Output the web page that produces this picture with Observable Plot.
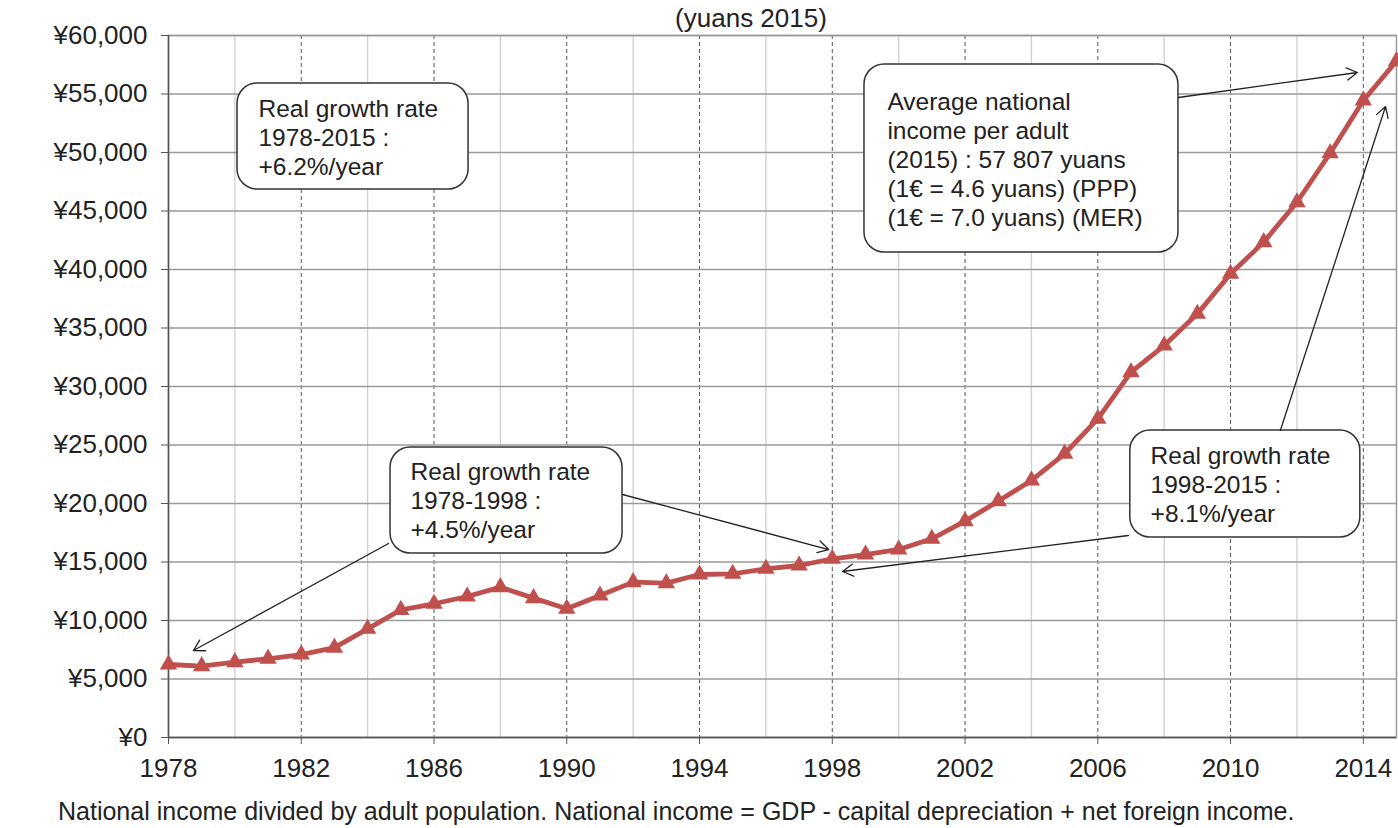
<!DOCTYPE html>
<html><head><meta charset="utf-8">
<script src="https://cdn.jsdelivr.net/npm/d3@7"></script>
<script src="https://cdn.jsdelivr.net/npm/@observablehq/plot@0.6"></script>
<style>
body{margin:0;background:#fff;font-family:"Liberation Sans",Arial,sans-serif;}
#wrap{position:relative;width:1398px;height:828px;overflow:hidden;background:#fff}
#chart{position:absolute;top:0;left:0}
#sub{position:absolute;top:3px;left:0;width:1502px;text-align:center;font-size:26px;color:#222;line-height:30px}
#cap{position:absolute;top:797px;left:58px;font-size:25px;color:#222;white-space:nowrap;line-height:28px}
</style></head><body>
<div id="wrap"><div id="chart"></div><div id="sub">(yuans 2015)</div><div id="cap">National income divided by adult population. National income = GDP - capital depreciation + net foreign income.</div></div>
<script>
// ---- data ----
const years = [1978,1979,1980,1981,1982,1983,1984,1985,1986,1987,1988,1989,1990,1991,1992,1993,1994,1995,1996,1997,1998,1999,2000,2001,2002,2003,2004,2005,2006,2007,2008,2009,2010,2011,2012,2013,2014,2015];
const income = [6240,6100,6440,6730,7090,7680,9290,10910,11430,12050,12850,11910,11000,12140,13280,13190,13930,13990,14420,14700,15270,15640,16070,16980,18490,20200,21970,24250,27240,31220,33500,36210,39630,42340,45750,49940,54440,57807];
const xTickValues = [1978,1982,1986,1990,1994,1998,2002,2006,2010,2014];
const yTickValues = [0,5000,10000,15000,20000,25000,30000,35000,40000,45000,50000,55000,60000];
const minorGridYears = [1980,1984,1988,1992,1996,2000,2004,2008,2012];
const majorGridYears = [1982,1986,1990,1994,1998,2002,2006,2010,2014];

// annotation boxes (data coordinates)
const boxText = [
  "Real growth rate\n1978-2015 :\n+6.2%/year",
  "Real growth rate\n1978-1998 :\n+4.5%/year",
  "Average national\nincome per adult\n(2015) : 57 807 yuans\n(1€ = 4.6 yuans) (PPP)\n(1€ = 7.0 yuans) (MER)",
  "Real growth rate\n1998-2015 :\n+8.1%/year"
];
const boxX1 = [1980.08, 1984.69, 1998.97, 2006.98];
const boxX2 = [1987.04, 1991.68, 2008.43, 2013.91];
const boxY1 = [46838, 15726, 41453, 17094];
const boxY2 = [55897, 24786, 57521, 26239];
const textX = [1980.71, 1985.29, 1999.66, 2007.59];
const textY = [51368, 20342, 49487, 21709];

// arrows (data coordinates)
const arrowX1 = [1984.63, 1991.68, 2008.43, 2011.5, 2006.92];
const arrowY1 = [16581, 20769, 54701, 26239, 17265];
const arrowX2 = [1978.75, 1997.89, 2013.82, 2014.67, 1998.31];
const arrowY2 = [7436, 16068, 56838, 53932, 14188];

const series = years.map((y, i) => ({year: y, value: income[i]}));
const boxes = boxText.map((t, i) => ({text: t, x1: boxX1[i], x2: boxX2[i], y1: boxY1[i], y2: boxY2[i], tx: textX[i], ty: textY[i]}));
const arrows = arrowX1.map((x, i) => ({x1: x, y1: arrowY1[i], x2: arrowX2[i], y2: arrowY2[i]}));

const red = "#C0504D";
const chart = Plot.plot({
  width: 1398, height: 800,
  marginTop: 35, marginLeft: 168, marginRight: 2, marginBottom: 63,
  x: {domain: [1978, 2015]},
  y: {domain: [0, 60000]},
  style: {fontFamily: "'Liberation Sans', Arial, sans-serif", color: "#222", background: "#fff"},
  marks: [
    Plot.ruleX(minorGridYears, {stroke: "#cfcfcf", strokeWidth: 1.3}),
    Plot.ruleX(majorGridYears, {stroke: "#555", strokeWidth: 1, strokeDasharray: "4,3"}),
    Plot.ruleY(yTickValues, {stroke: "#9a9a9a", strokeWidth: 1.6}),
    Plot.frame({stroke: "#9a9a9a", strokeWidth: 1.5}),
    Plot.ruleX([1978], {stroke: "#555", strokeWidth: 1.5}),
    Plot.ruleY([0], {stroke: "#555", strokeWidth: 1.5}),
    Plot.axisX({ticks: xTickValues, tickFormat: "d", tickSize: 7, tickPadding: 14, fontSize: 26, label: null, stroke: "#555"}),
    Plot.axisY({ticks: yTickValues, tickFormat: d => "¥" + d3.format(",")(d), tickSize: 7, tickPadding: 14, fontSize: 26, label: null, stroke: "#555"}),
    Plot.line(series, {x: "year", y: "value", stroke: red, strokeWidth: 4.8}),
    Plot.dot(series, {x: "year", y: "value", symbol: "triangle", r: 5.5, fill: red, stroke: red}),
    Plot.rect(boxes, {x1: "x1", x2: "x2", y1: "y1", y2: "y2", fill: "white", stroke: "#333", strokeWidth: 1.5, rx: 20}),
    Plot.arrow(arrows, {x1: "x1", y1: "y1", x2: "x2", y2: "y2", stroke: "#222", strokeWidth: 1.3, headLength: 14, bend: 0}),
    Plot.text(boxes, {x: "tx", y: "ty", text: "text", textAnchor: "start", lineAnchor: "middle", fontSize: 24.5, lineHeight: 1.18, fill: "#222"})
  ]
});
document.getElementById("chart").appendChild(chart);
</script>
</body></html>
